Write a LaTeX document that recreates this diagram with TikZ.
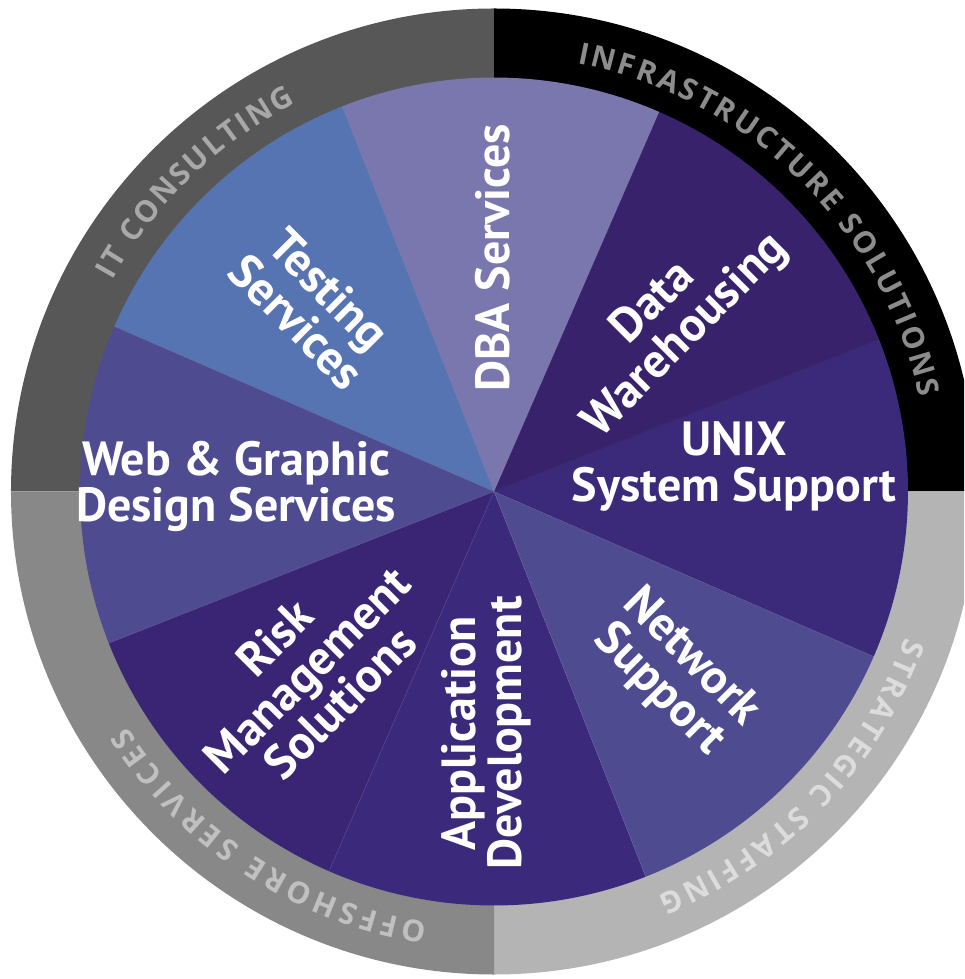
\documentclass[tikz,border=0pt]{standalone}
\usepackage{fontspec}
\setmainfont{PT Sans}
\newfontfamily\ringfont{Open Sans}
\usetikzlibrary{decorations.text}
\definecolor{ringa}{HTML}{575757}
\definecolor{ringb}{HTML}{000000}
\definecolor{ringc}{HTML}{B4B4B4}
\definecolor{ringd}{HTML}{888888}
\definecolor{ringtxta}{HTML}{A8A8A8}
\definecolor{ringtxtb}{HTML}{8C8C8C}
\definecolor{ringtxtc}{HTML}{DCDCDC}
\definecolor{ringtxtd}{HTML}{C0C0C0}
\definecolor{dba}{HTML}{7A77AE}
\definecolor{testing}{HTML}{5673B2}
\definecolor{webdes}{HTML}{4E4B90}
\definecolor{risk}{HTML}{3A2574}
\definecolor{appdev}{HTML}{3B2A7B}
\definecolor{netsup}{HTML}{4E4B90}
\definecolor{unixsup}{HTML}{3B2A7A}
\definecolor{datawh}{HTML}{37226B}
\begin{document}
\begin{tikzpicture}[x=1pt,y=1pt,
		lbl/.style={text=white,align=center,inner sep=0pt,font=\fontsize{48}{46}\selectfont\bfseries},
		ringtext/.style 2 args={decorate,decoration={text along path,text align=fit to path,text color=#1,
			text={|\ringfont\bfseries\fontsize{30}{30}\selectfont|#2}}}]
	\useasboundingbox (-494,-487.5) rectangle (470,491.5);
	\clip (-494,-487.5) rectangle (470,491.5);
	% outer ring
	\foreach \a/\c in {90/ringa,0/ringb,-90/ringc,180/ringd}{
		\fill[\c] (0,0) -- (\a:483) arc (\a:\a+90:483) -- cycle;}
	% service slices
	\foreach \a/\c in {21.5/datawh,66.5/dba,111.5/testing,156.5/webdes,201.5/risk,246.5/appdev,291.5/netsup,336.5/unixsup}{
		\fill[\c] (0,0) -- (\a:414) arc (\a:\a+45:414) -- cycle;
		\draw[white,opacity=.1,line width=.6] (0,0) -- (\a:414);}
	\node[lbl,rotate=90] (dba) at (-1,233.5) {DBA Services};
	\node[lbl,rotate=45] (datawh) at (176,171.5) {Data\\Warehousing};
	\node[lbl] (unixsup) at (240,24.5) {UNIX\\System Support};
	\node[lbl,rotate=-45] (netsup) at (181,-182.5) {Network\\Support};
	\node[lbl,rotate=90] (appdev) at (-8,-241.5) {Application\\Development};
	\node[lbl,rotate=45] (risk) at (-187,-178.5) {Risk\\Management\\Solutions};
	\node[lbl] (webdes) at (-258,5.5) {Web \& Graphic\\Design Services};
	\node[lbl,rotate=-45] (testing) at (-181,186) {Testing\\Services};
	% ring labels
	\path[ringtext={ringtxta}{IT CONSULTING}] (151:436) arc (151:117:436);
	\path[ringtext={ringtxtb}{INFRASTRUCTURE SOLUTIONS}] (79:436) arc (79:12.5:436);
	\path[ringtext={ringtxtc}{STRATEGIC STAFFING}] (-19.5:436) arc (-19.5:-68:436);
	\path[ringtext={ringtxtd}{OFFSHORE SERVICES}] (-98.8:436) arc (-98.8:-147.3:436);
\end{tikzpicture}
\end{document}
